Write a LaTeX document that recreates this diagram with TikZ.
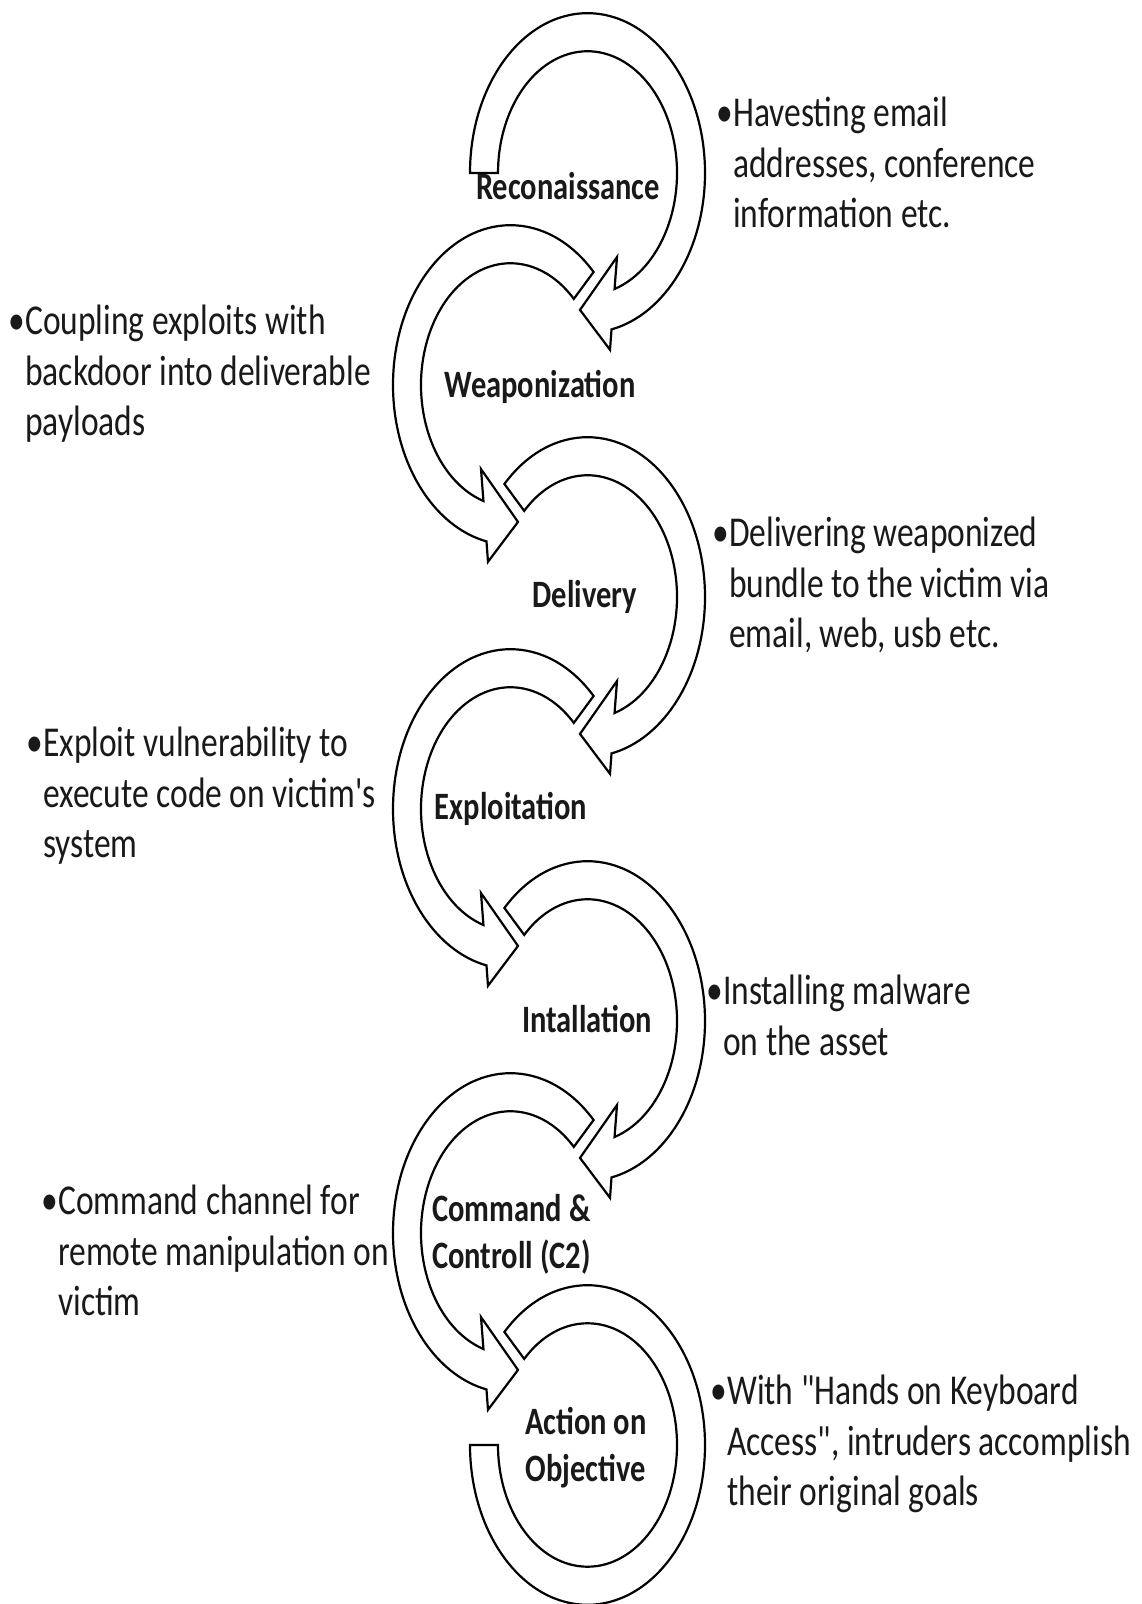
\documentclass[tikz,border=0pt]{standalone}
\usepackage{fontspec}
\setmainfont{Carlito}
\usepackage{graphicx}
\newcommand{\tall}[1]{\scalebox{1}[1.27]{\begin{tabular}[t]{@{}l@{}}#1\end{tabular}}}
\newcommand{\tallc}[1]{\scalebox{1}[1.27]{\begin{tabular}[t]{@{}c@{}}#1\end{tabular}}}
\newcommand{\cyclearrow}[4]{%
  \begin{scope}[shift={(#1,#2)},xscale=#3,yscale=1.36]
    \draw[arc line] (#4:117.5) arc[start angle=#4,end angle=-78.2,radius=117.5]
      -- (22.5,-130) -- (-7.5,-100.7) -- (29.5,-61.8)
      -- (-72.4:89.5) arc[start angle=-72.4,end angle=#4,radius=89.5] -- cycle;
  \end{scope}}

\begin{document}
\begin{tikzpicture}[x=1pt,y=1pt,
  arc line/.style={draw=black,line width=2.2pt,fill=white,line join=miter},
  stage node/.style={font=\fontsize{30.5}{37}\selectfont\bfseries,inner sep=0pt,anchor=base,text=black!90},
  note node/.style={font=\fontsize{33.5}{39.4}\selectfont,inner sep=0pt,anchor=base west,text=black!90}]
  \useasboundingbox (0,0) rectangle (1141,1604);

  \cyclearrow{587.5}{1431}{1}{180}
  \cyclearrow{510.5}{1219}{-1}{135}
  \cyclearrow{587.5}{1007}{1}{135}
  \cyclearrow{510.5}{795}{-1}{135}
  \cyclearrow{587.5}{583}{1}{135}
  \cyclearrow{510.5}{371}{-1}{135}
  \begin{scope}[shift={(587.5,159)},yscale=1.36]
    \draw[arc line] (135:117.5) arc[start angle=135,end angle=-180,radius=117.5]
      -- (-180:89.5) arc[start angle=-180,end angle=135,radius=89.5] -- cycle;
  \end{scope}

  \node[stage node] (recon)   at (568,1404) {\tallc{Reconaissance}};
  \node[stage node] (weapon)  at (540,1206) {\tallc{Weaponization}};
  \node[stage node] (deliver) at (585,996)  {\tallc{Delivery}};
  \node[stage node] (exploit) at (511,784)  {\tallc{Exploitation}};
  \node[stage node] (install) at (587,571)  {\tallc{Intallation}};
  \node[stage node,anchor=base west] (cnc) at (432,382) {\tall{Command \&\\Controll (C2)}};
  \node[stage node] (action)  at (586,169)  {\tallc{Action on\\Objective}};

  \node[note node] (recon note)   at (733,1477) {\tall{\llap{•}Havesting email\\addresses, conference\\information etc.}};
  \node[note node] (weapon note)  at (25,1269)  {\tall{\llap{•}Coupling exploits with\\backdoor into deliverable\\payloads}};
  \node[note node] (deliver note) at (729,1057) {\tall{\llap{•}Delivering weaponized\\bundle to the victim via\\email, web, usb etc.}};
  \node[note node] (exploit note) at (43,847)   {\tall{\llap{•}Exploit vulnerability to\\execute code on victim\textquotesingle s\\system}};
  \node[note node] (install note) at (723,599)  {\tall{\llap{•}Installing malware\\on the asset}};
  \node[note node] (cnc note)     at (58,389)   {\tall{\llap{•}Command channel for\\remote manipulation on\\victim}};
  \node[note node] (action note)  at (727,199)  {\tall{\llap{•}With \textquotedbl Hands on Keyboard\\Access\textquotedbl, intruders accomplish\\their original goals}};
\end{tikzpicture}
\end{document}
